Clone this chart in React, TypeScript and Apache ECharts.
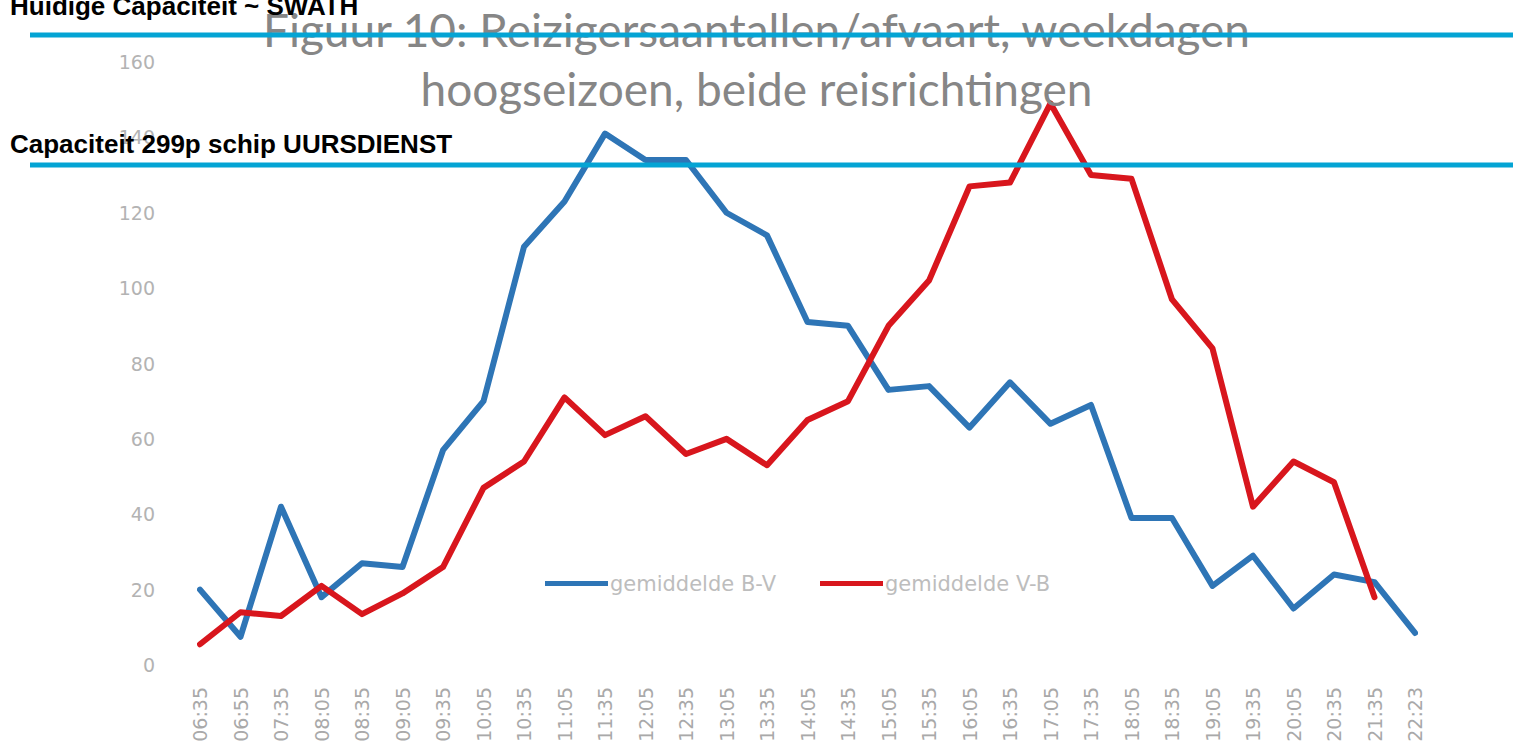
import React, { useEffect, useRef } from "react";
import * as echarts from "echarts";

const categories = [
  "06:35", "06:55", "07:35", "08:05", "08:35", "09:05", "09:35", "10:05",
  "10:35", "11:05", "11:35", "12:05", "12:35", "13:05", "13:35", "14:05",
  "14:35", "15:05", "15:35", "16:05", "16:35", "17:05", "17:35", "18:05",
  "18:35", "19:05", "19:35", "20:05", "20:35", "21:35", "22:23",
];

const seriesBV = [
  20, 7.5, 42, 18, 27, 26, 57, 70, 111, 123, 141, 134, 134, 120, 114, 91,
  90, 73, 74, 63, 75, 64, 69, 39, 39, 21, 29, 15, 24, 22, 8.5,
];

const seriesVB = [
  5.5, 14, 13, 21, 13.5, 19, 26, 47, 54, 71, 61, 66, 56, 60, 53, 65,
  70, 90, 102, 127, 128, 149, 130, 129, 97, 84, 42, 54, 48.5, 18, null,
];

const seriesNames = ["gemiddelde B-V", "gemiddelde V-B"];
const titleLines = [
  "Figuur 10: Reizigersaantallen/afvaart, weekdagen",
  "hoogseizoen, beide reisrichtingen",
];
const annotationTexts = [
  "Huidige Capaciteit ~ SWATH",
  "Capaciteit 299p schip UURSDIENST",
];

export default function App() {
  const ref = useRef<HTMLDivElement>(null);

  useEffect(() => {
    document.body.style.margin = "0";
    if (!ref.current) return;
    const chart = echarts.init(ref.current, undefined, { renderer: "svg" });
    const cyan = "#04a4d4";
    chart.setOption({
      animation: false,
      backgroundColor: "#ffffff",
      title: {
        text: titleLines.join("\n"),
        left: "center",
        top: 0,
        padding: [0, 0, 0, 13],
        textStyle: {
          fontFamily: "Lato",
          fontSize: 46,
          fontWeight: "normal",
          color: "#868686",
          lineHeight: 59,
        },
      },
      legend: {
        data: seriesNames,
        left: 540,
        top: 568,
        icon: "rect",
        itemWidth: 63,
        itemHeight: 5,
        itemGap: 44,
        textStyle: {
          fontFamily: "DejaVu Sans",
          fontSize: 21,
          color: "#bdbdbd",
          padding: [0, 0, 0, -3],
        },
      },
      grid: { left: 200, right: 98, top: 62, bottom: 83 },
      xAxis: {
        type: "category",
        data: categories,
        boundaryGap: false,
        axisLine: { show: false },
        axisTick: { show: false },
        axisLabel: {
          rotate: 90,
          margin: 22,
          interval: 0,
          fontFamily: "DejaVu Sans",
          fontSize: 19,
          color: "#a9a9a9",
        },
        splitLine: { show: false },
      },
      yAxis: {
        type: "value",
        min: 0,
        max: 160,
        interval: 20,
        axisLine: { show: false },
        axisTick: { show: false },
        splitLine: { show: false },
        axisLabel: {
          margin: 45,
          fontFamily: "DejaVu Sans",
          fontSize: 19,
          color: "#b3b3b3",
        },
      },
      series: [
        {
          name: seriesNames[0],
          type: "line",
          data: seriesBV,
          symbol: "none",
          color: "#2e75b6",
          lineStyle: { width: 6, color: "#2e75b6", cap: "round", join: "round" },
        },
        {
          name: seriesNames[1],
          type: "line",
          data: seriesVB,
          symbol: "none",
          color: "#d8161d",
          lineStyle: { width: 6, color: "#d8161d", cap: "round", join: "round" },
        },
      ],
      graphic: [
        {
          type: "line",
          z: 100,
          shape: { x1: 30, y1: 35, x2: 1513, y2: 35 },
          style: { stroke: cyan, lineWidth: 5 },
        },
        {
          type: "line",
          z: 100,
          shape: { x1: 30, y1: 165, x2: 1513, y2: 165 },
          style: { stroke: cyan, lineWidth: 5 },
        },
        {
          type: "text",
          z: 100,
          x: 10,
          y: 6,
          style: {
            text: annotationTexts[0],
            font: 'bold 26px "Liberation Sans", Arial, sans-serif',
            fill: "#000000",
            verticalAlign: "middle",
          },
        },
        {
          type: "text",
          z: 100,
          x: 10,
          y: 144,
          style: {
            text: annotationTexts[1],
            font: 'bold 26px "Liberation Sans", Arial, sans-serif',
            fill: "#000000",
            verticalAlign: "middle",
          },
        },
      ],
    });
    return () => chart.dispose();
  }, []);

  return <div ref={ref} style={{ width: 1513, height: 748 }} />;
}
